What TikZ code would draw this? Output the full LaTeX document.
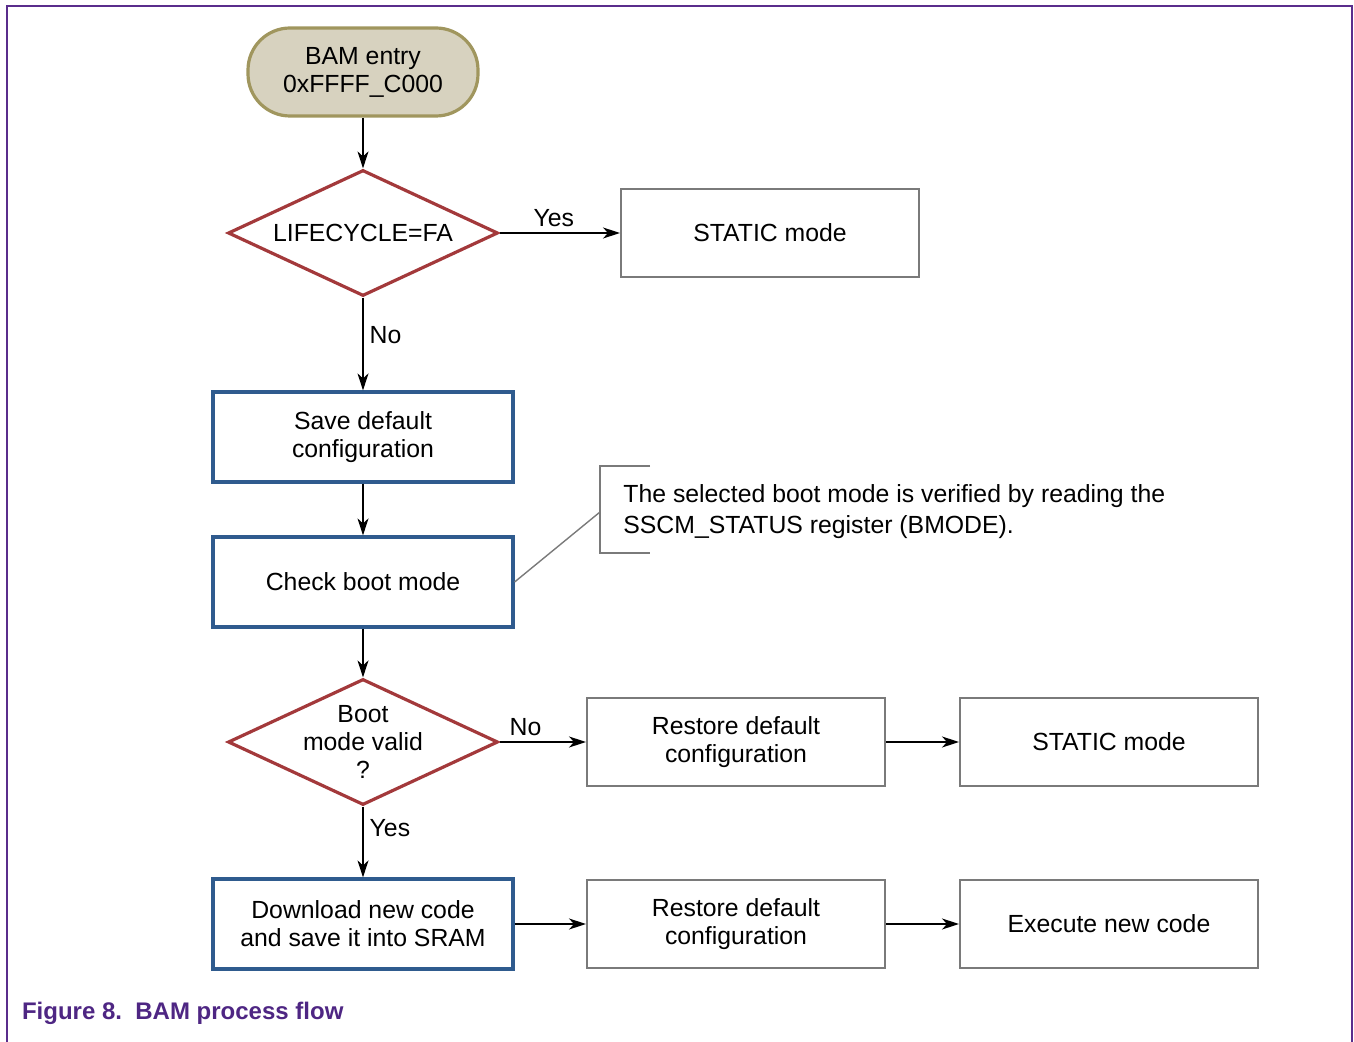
\documentclass[tikz,border=0pt]{standalone}
\usepackage{fontspec}
\setmainfont{Liberation Sans}
\usepackage{tikz}
\usetikzlibrary{arrows.meta,shapes.geometric}
\definecolor{entryfill}{HTML}{D7D2BF}
\definecolor{entryolive}{HTML}{A0965E}
\definecolor{decisionred}{HTML}{A3393B}
\definecolor{actionblue}{HTML}{2F5B8E}
\definecolor{plaingray}{HTML}{7A7A7A}
\definecolor{framepurple}{HTML}{5A2D8C}
\definecolor{captionpurple}{HTML}{4E2683}

\begin{document}
\begin{tikzpicture}[x=0.5pt,y=-0.5pt,font=\fontsize{12.4}{14}\selectfont,
  entrybox/.style={draw=entryolive,fill=entryfill,line width=1.6pt,rounded corners=21pt,
    minimum width=115pt,minimum height=44pt,align=center},
  decision/.style={diamond,draw=decisionred,line width=1.6pt,aspect=2.14,inner sep=0pt,
    inner ysep=-4pt,minimum width=135pt,minimum height=63pt,align=center},
  actionbox/.style={draw=actionblue,line width=1.6pt,minimum width=150pt,minimum height=45pt,align=center},
  plainbox/.style={draw=plaingray,line width=1pt,minimum width=149pt,minimum height=44pt,align=center},
  flow/.style={draw=black,line width=0.7pt,-{Stealth[length=8.5pt,width=5.5pt,inset=2.5pt]}},
  flowlabel/.style={inner sep=3pt}]
  \useasboundingbox (0,0) rectangle (1354,1042);
  \draw[framepurple,line width=1pt] (7,1042) -- (7,6) -- (1352,6) -- (1352,1042);

  \node[entrybox] (entry) at (363,72) {BAM entry\\0xFFFF\_C000};
  \node[decision] (lifecycle) at (363,233) {LIFECYCLE=FA};
  \node[plainbox] (staticA) at (770,233) {STATIC mode};
  \node[actionbox] (save) at (363,437) {Save default\\configuration};
  \node[actionbox] (check) at (363,582) {Check boot mode};
  \node[decision] (bootvalid) at (363,742) {Boot\\mode valid\\?};
  \node[plainbox] (restoreA) at (736,742) {Restore default\\configuration};
  \node[plainbox] (staticB) at (1109,742) {STATIC mode};
  \node[actionbox] (download) at (363,924) {Download new code\\and save it into SRAM};
  \node[plainbox] (restoreB) at (736,924) {Restore default\\configuration};
  \node[plainbox] (execute) at (1109,924) {Execute new code};

  \draw[flow] (entry) -- (lifecycle);
  \draw[flow] (lifecycle) -- node[flowlabel,above,pos=0.45] {Yes} (staticA);
  \draw[flow] (lifecycle) -- node[flowlabel,right,pos=0.4] {No} (save);
  \draw[flow] (save) -- (check);
  \draw[flow] (check) -- (bootvalid);
  \draw[flow] (bootvalid) -- node[flowlabel,above,pos=0.3] {No} (restoreA);
  \draw[flow] (restoreA) -- (staticB);
  \draw[flow] (bootvalid) -- node[flowlabel,right,pos=0.3] {Yes} (download);
  \draw[flow] (download) -- (restoreB);
  \draw[flow] (restoreB) -- (execute);

  \node[anchor=west,align=left,inner sep=0pt,font=\fontsize{12.4}{15.5}\selectfont] (note) at (623,512)
    {The selected boot mode is verified by reading the\\SSCM\_STATUS register (BMODE).};
  \coordinate (notemid) at (600,512);
  \draw[plaingray,line width=0.8pt] (650,466) -- (600,466) -- (600,553) -- (650,553);
  \draw[plaingray,line width=0.7pt] (check.east) -- (notemid);

  \node[anchor=west,text=captionpurple,font=\bfseries\fontsize{12}{14}\selectfont] (caption) at (15,1013)
    {Figure 8.\ \ BAM process flow};
\end{tikzpicture}
\end{document}
